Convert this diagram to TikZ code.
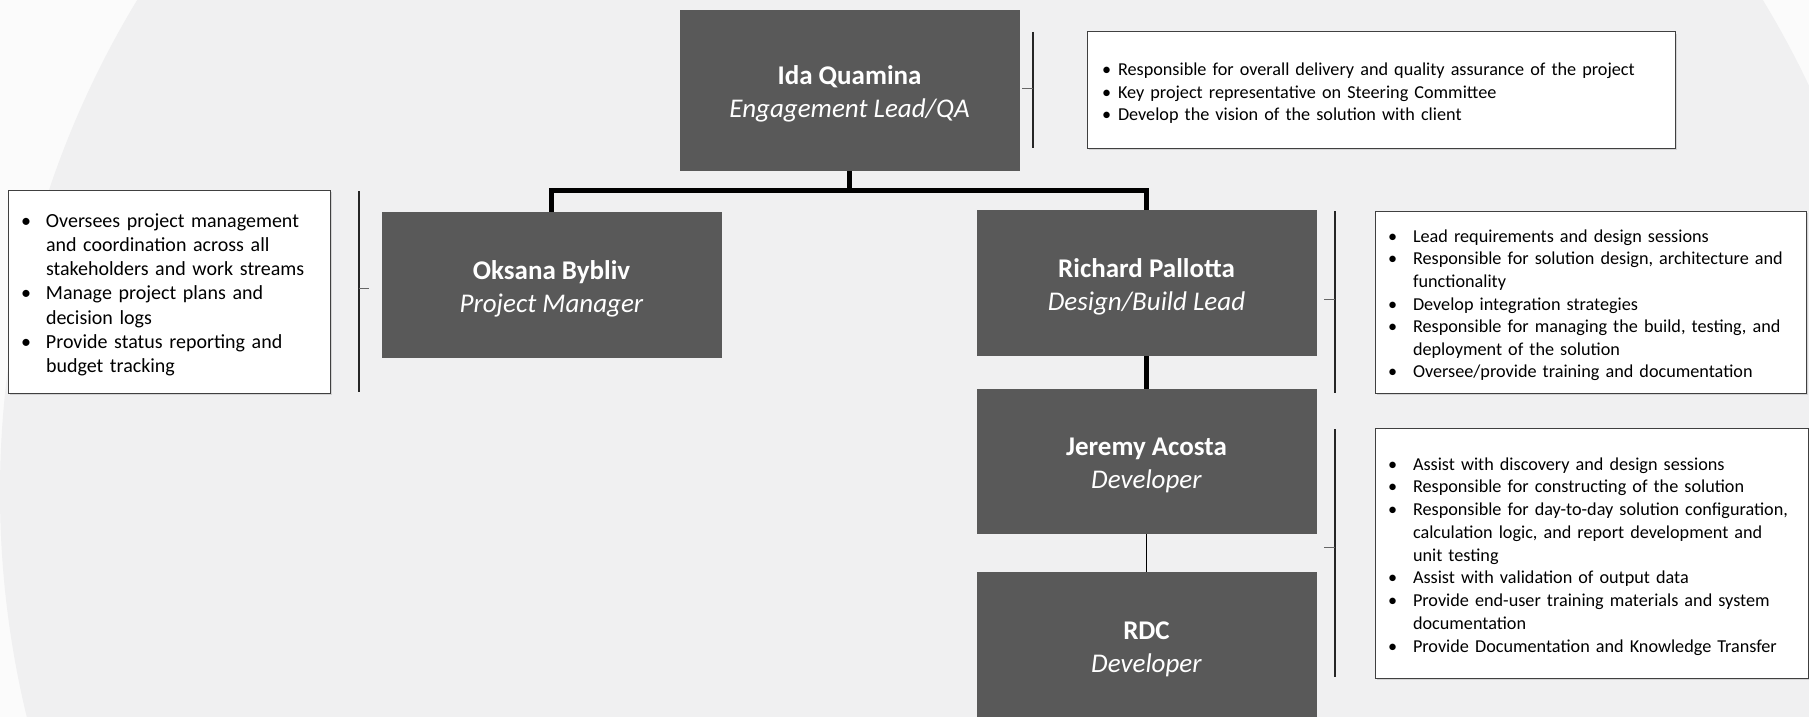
\documentclass[tikz,border=0pt]{standalone}
\usepackage{fontspec}
\setmainfont{Carlito}
\usetikzlibrary{shadows}
\definecolor{boxgray}{HTML}{595959}
\definecolor{globe}{HTML}{F0F0F1}
\definecolor{outer}{HTML}{FBFBFB}
\newcommand{\bul}[2][25pt]{\par\ifdim\prevdepth>-999pt\prevdepth=\dp\strutbox\fi
  \noindent\makebox[#1][l]{\textbullet}\parbox[t]{\dimexpr\hsize-#1\relax}{\raggedright\strut #2\strut}}
\newcommand{\rolelabel}[2]{\rule{0pt}{26pt}\textbf{#1}\\\textit{#2}}
\begin{document}
\begin{tikzpicture}[x=1pt,y=-1pt,
  role/.style={fill=boxgray, text=white, minimum width=340pt, minimum height=146pt,
    inner sep=0pt, align=center, font=\fontsize{27}{33}\selectfont},
  desc/.style={draw=black!75, line width=1pt, fill=white, inner ysep=0pt, align=left,
    drop shadow={shadow xshift=2pt, shadow yshift=-2pt, opacity=0.25}},
  conn/.style={line width=5pt},
  thinconn/.style={line width=1.5pt},
  brk/.style={line width=1.3pt, black!85},
  tick/.style={line width=0.8pt, black!60}]
\clip (0,0) rectangle (1809,717);
\useasboundingbox (0,0) rectangle (1809,717);
\fill[outer] (0,0) rectangle (1809,717);
\fill[globe] (950,492) circle (950);

% org boxes
\node[role, minimum height=161pt] (ida) at (849.5,90.5) {\rolelabel{Ida Quamina}{Engagement Lead/QA}};
\node[role] (oks) at (551.5,285) {\rolelabel{Oksana Bybliv}{Project Manager}};
\node[role] (ric) at (1146.5,283) {\rolelabel{Richard Pallotta}{Design/Build Lead}};
\node[role, minimum height=145pt] (jer) at (1146.5,461.5) {\rolelabel{Jeremy Acosta}{Developer}};
\node[role] (rdc) at (1146.5,645) {\rolelabel{RDC}{Developer}};

% connectors
\draw[conn] (ida.south) -- ++(0,19) coordinate (bus) -| (oks.north);
\draw[conn] (bus) -| (ric.north);
\draw[conn] (ric.south) -- (jer.north);
\draw[thinconn] (jer.south) -- (rdc.north);

% description boxes
\node[desc, minimum width=588pt, minimum height=116pt, inner xsep=15pt, text width=558pt,
  font=\fontsize{18.2}{22.6}\selectfont] (idad) at (1381,90) {\vspace*{7pt}%
  \bul[16pt]{Responsible for overall delivery and quality assurance of the project}
  \bul[16pt]{Key project representative on Steering Committee}
  \bul[16pt]{Develop the vision of the solution with client}};

\node[desc, minimum width=322pt, minimum height=203pt, inner xsep=13pt, text width=296pt,
  font=\fontsize{20}{24.2}\selectfont] (oksd) at (169,291.5) {\vspace*{7pt}%
  \bul{Oversees project management\\and coordination across all\\stakeholders and work streams}
  \bul{Manage project plans and\\decision logs}
  \bul{Provide status reporting and\\budget tracking}};

\node[desc, minimum width=431pt, minimum height=182pt, inner xsep=13pt, text width=405pt,
  font=\fontsize{18.2}{22.6}\selectfont] (ricd) at (1590.5,302) {\vspace*{7pt}%
  \bul{Lead requirements and design sessions}
  \bul{Responsible for solution design, architecture and\\functionality}
  \bul{Develop integration strategies}
  \bul{Responsible for managing the build, testing, and\\deployment of the solution}
  \bul{Oversee/provide training and documentation}};

\node[desc, minimum width=433pt, minimum height=250pt, inner xsep=13pt, text width=407pt,
  font=\fontsize{18.2}{22.75}\selectfont] (jerd) at (1591.5,553) {\vspace*{7pt}%
  \bul{Assist with discovery and design sessions}
  \bul{Responsible for constructing of the solution}
  \bul{Responsible for day-to-day solution configuration,\\calculation logic, and report development and\\unit testing}
  \bul{Assist with validation of output data}
  \bul{Provide end-user training materials and system\\documentation}
  \bul{Provide Documentation and Knowledge Transfer}};

% brackets
\draw[brk] (1033,32) -- (1033,148);
\draw[tick] (1033,88) -- (1022,88);
\draw[brk] (359,191) -- (359,392);
\draw[tick] (359,288) -- (369,288);
\draw[brk] (1335,211) -- (1335,393);
\draw[tick] (1335,299) -- (1324,299);
\draw[brk] (1335,429) -- (1335,677);
\draw[tick] (1335,547) -- (1324,547);
\end{tikzpicture}
\end{document}
